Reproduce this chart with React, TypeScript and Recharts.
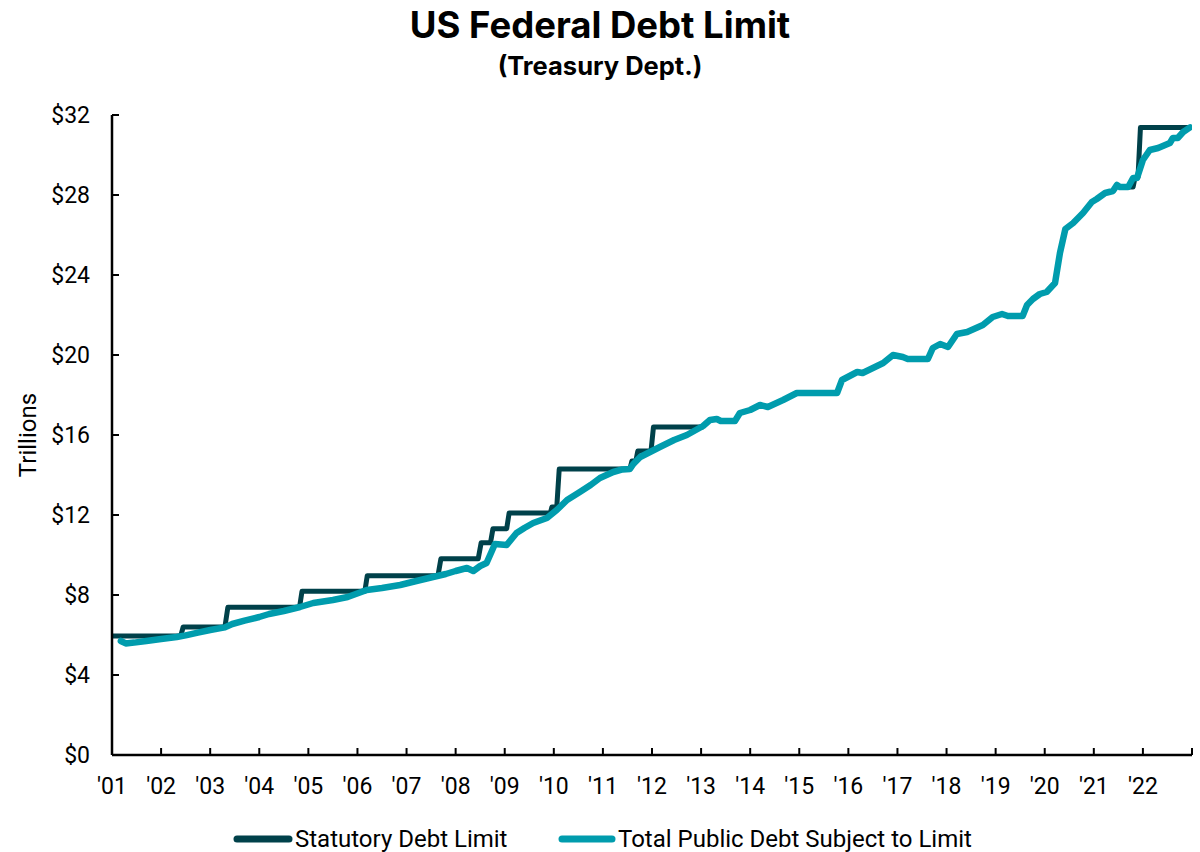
import React from 'react';
import { LineChart, Line, XAxis, YAxis } from 'recharts';

// statutory limit (trillions $), pairs before/after each change; null = suspended
const limitYears = [
  2001.0, 2002.4, 2002.45, 2003.3, 2003.36, 2004.82, 2004.87, 2006.15, 2006.2, 2007.64,
  2007.7, 2008.46, 2008.52, 2008.71, 2008.76, 2009.04, 2009.09, 2009.93, 2009.96, 2010.06,
  2010.11, 2011.55, 2011.59, 2011.67, 2011.71, 2011.98, 2012.03, 2013.05, 2013.06,
  2021.6, 2021.8, 2021.84, 2021.9, 2021.95, 2022.96,
];
const limitValues = [
  5.95, 5.95, 6.4, 6.4, 7.384, 7.384, 8.184, 8.184, 8.965, 8.965,
  9.815, 9.815, 10.615, 10.615, 11.315, 11.315, 12.104, 12.104, 12.394, 12.394,
  14.294, 14.294, 14.694, 14.694, 15.194, 15.194, 16.394, 16.394, null,
  28.4, 28.4, 28.88, 28.88, 31.381, 31.381,
];

// total public debt subject to limit (trillions $)
const debtYears = [
  2001.18, 2001.28, 2001.45, 2001.7, 2002.0, 2002.32, 2002.5, 2002.75, 2003.0, 2003.3,
  2003.45, 2003.7, 2004.0, 2004.2, 2004.5, 2004.83, 2005.1, 2005.5, 2005.8, 2006.19,
  2006.5, 2006.87, 2007.2, 2007.54, 2007.8, 2008.0, 2008.23, 2008.36, 2008.5, 2008.63,
  2008.72, 2008.8, 2009.04, 2009.24, 2009.4, 2009.58, 2009.86, 2010.06, 2010.27, 2010.53,
  2010.75, 2010.94, 2011.21, 2011.4, 2011.55, 2011.62, 2011.76, 2012.0, 2012.16, 2012.45,
  2012.71, 2013.04, 2013.18, 2013.32, 2013.4, 2013.69, 2013.79, 2014.0, 2014.2, 2014.36,
  2014.67, 2014.95, 2015.15, 2015.77, 2015.87, 2016.18, 2016.29, 2016.71, 2016.91, 2017.11,
  2017.21, 2017.62, 2017.72, 2017.87, 2018.03, 2018.21, 2018.42, 2018.74, 2018.94, 2019.13,
  2019.25, 2019.55, 2019.64, 2019.76, 2019.9, 2020.04, 2020.21, 2020.31, 2020.42, 2020.58,
  2020.78, 2020.96, 2021.06, 2021.23, 2021.39, 2021.47, 2021.53, 2021.7, 2021.8, 2021.88,
  2022.0, 2022.14, 2022.31, 2022.55, 2022.61, 2022.71, 2022.82, 2022.96,
];
const debtValues = [
  5.7, 5.58, 5.62, 5.7, 5.8, 5.9, 5.98, 6.12, 6.25, 6.38,
  6.55, 6.72, 6.9, 7.05, 7.2, 7.4, 7.6, 7.75, 7.9, 8.25,
  8.35, 8.5, 8.7, 8.9, 9.05, 9.2, 9.35, 9.2, 9.45, 9.6,
  10.1, 10.55, 10.5, 11.1, 11.35, 11.6, 11.85, 12.25, 12.75, 13.15,
  13.5, 13.85, 14.15, 14.28, 14.3, 14.55, 14.9, 15.2, 15.4, 15.75,
  16.0, 16.45, 16.75, 16.8, 16.7, 16.7, 17.1, 17.25, 17.5, 17.4,
  17.75, 18.1, 18.1, 18.1, 18.75, 19.15, 19.1, 19.6, 20.0, 19.9,
  19.8, 19.8, 20.35, 20.55, 20.4, 21.05, 21.15, 21.5, 21.9, 22.05,
  21.95, 21.95, 22.5, 22.8, 23.05, 23.15, 23.6, 25.1, 26.3, 26.6,
  27.1, 27.65, 27.8, 28.1, 28.2, 28.5, 28.4, 28.4, 28.85, 28.85,
  29.75, 30.25, 30.35, 30.6, 30.85, 30.85, 31.15, 31.38,
];

const yearTicks = [
  2001, 2002, 2003, 2004, 2005, 2006, 2007, 2008, 2009, 2010, 2011, 2012,
  2013, 2014, 2015, 2016, 2017, 2018, 2019, 2020, 2021, 2022, 2023,
];
const dollarTicks = [0, 4, 8, 12, 16, 20, 24, 28, 32];

const seriesNames = ['Statutory Debt Limit', 'Total Public Debt Subject to Limit'];
const LIMIT_COLOR = '#00414a';
const DEBT_COLOR = '#009cad';

const limitData = limitYears.map((year, i) => ({ year, value: limitValues[i] }));
const debtData = debtYears.map((year, i) => ({ year, value: debtValues[i] }));

const font = 'Roboto, sans-serif';

export default function App() {
  return (
    <div style={{ position: 'absolute', left: 0, top: 0, width: 1200, height: 852, background: '#fff' }}>
      <svg width={1200} height={100} style={{ position: 'absolute', left: 0, top: 0 }}>
        <text x={600} y={38} textAnchor="middle" fontFamily="Inter, sans-serif" fontWeight={700} fontSize={36.5} fill="#000">
          US Federal Debt Limit
        </text>
        <text x={600} y={75} textAnchor="middle" fontFamily="Inter, sans-serif" fontWeight={700} fontSize={25.5} fill="#000">
          (Treasury Dept.)
        </text>
      </svg>

      <LineChart
        width={1200}
        height={852}
        margin={{ top: 115, right: 8, bottom: 57, left: 0 }}
        style={{ position: 'absolute', left: 0, top: 0 }}
      >
        <XAxis
          dataKey="year"
          type="number"
          domain={[2001, 2023]}
          ticks={yearTicks}
          allowDataOverflow
          tickFormatter={(v: number) => (v === 2023 ? '' : "'" + String(v).slice(2))}
          tickSize={-7}
          tickMargin={30}
          height={40}
          axisLine={{ stroke: '#000', strokeWidth: 2.5 }}
          tickLine={{ stroke: '#000', strokeWidth: 2 }}
          tick={{ fill: '#000', fontSize: 23, fontFamily: font }}
        />
        <YAxis
          type="number"
          domain={[0, 32]}
          ticks={dollarTicks}
          tickFormatter={(v: number) => '$' + v}
          width={112}
          tickSize={-7}
          tickMargin={29}
          axisLine={{ stroke: '#000', strokeWidth: 2.5 }}
          tickLine={{ stroke: '#000', strokeWidth: 2 }}
          tick={{ fill: '#000', fontSize: 23, fontFamily: font }}
          label={{
            value: 'Trillions',
            angle: -90,
            position: 'insideLeft',
            offset: 27,
            style: { textAnchor: 'middle', fill: '#000', fontSize: 24, fontFamily: font },
          }}
        />
        <Line
          data={limitData}
          dataKey="value"
          name={seriesNames[0]}
          type="linear"
          stroke={LIMIT_COLOR}
          strokeWidth={5}
          strokeLinejoin="round"
          dot={false}
          activeDot={false}
          isAnimationActive={false}
        />
        <Line
          data={debtData}
          dataKey="value"
          name={seriesNames[1]}
          type="linear"
          stroke={DEBT_COLOR}
          strokeWidth={6.5}
          strokeLinejoin="round"
          strokeLinecap="round"
          dot={false}
          activeDot={false}
          isAnimationActive={false}
        />
      </LineChart>

      <svg width={1200} height={40} style={{ position: 'absolute', left: 0, top: 820 }}>
        <line x1={237} y1={19} x2={289} y2={19} stroke={LIMIT_COLOR} strokeWidth={7} strokeLinecap="round" />
        <text x={295} y={27} fontFamily={font} fontSize={24} fill="#000">{seriesNames[0]}</text>
        <line x1={562} y1={19} x2={612} y2={19} stroke={DEBT_COLOR} strokeWidth={7} strokeLinecap="round" />
        <text x={618} y={27} fontFamily={font} fontSize={24} fill="#000">{seriesNames[1]}</text>
      </svg>
    </div>
  );
}
